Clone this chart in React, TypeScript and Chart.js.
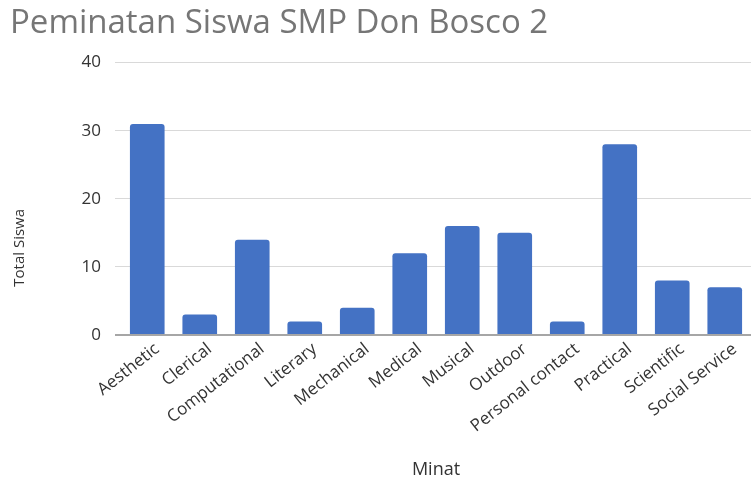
import React, { useEffect, useRef } from "react";
import { Chart, registerables } from "chart.js";

Chart.register(...registerables);

const categories = [
  "Aesthetic",
  "Clerical",
  "Computational",
  "Literary",
  "Mechanical",
  "Medical",
  "Musical",
  "Outdoor",
  "Personal contact",
  "Practical",
  "Scientific",
  "Social Service",
];
const totalSiswa = [31, 3, 14, 2, 4, 12, 16, 15, 2, 28, 8, 7];
const yTicks = [0, 10, 20, 30, 40];

const chartTitle = "Peminatan Siswa SMP Don Bosco 2";
const yTitle = "Total Siswa";
const xTitle = "Minat";

const FONT = "'Open Sans', 'DejaVu Sans', sans-serif";

const yTitlePlugin = {
  id: "yTitleLow",
  afterDraw(chart: any) {
    const ctx = chart.ctx;
    const area = chart.chartArea;
    ctx.save();
    ctx.fillStyle = "#333";
    ctx.font = `15px ${FONT}`;
    ctx.textAlign = "center";
    ctx.textBaseline = "middle";
    // placed a bit below the vertical middle of the plot, as in the reference
    const cy = area.top + (area.bottom - area.top) * 0.68;
    ctx.translate(20, cy);
    ctx.rotate(-Math.PI / 2);
    ctx.fillText(yTitle, 0, 0);
    ctx.restore();
  },
};

export default function App() {
  const ref = useRef<HTMLCanvasElement>(null);

  useEffect(() => {
    document.body.style.margin = "0";
    const canvas = ref.current;
    if (!canvas) return;
    const chart = new Chart(canvas, {
      type: "bar",
      data: {
        labels: categories,
        datasets: [
          {
            label: yTitle,
            data: totalSiswa,
            backgroundColor: "#4472C4",
            borderRadius: { topLeft: 3, topRight: 3, bottomLeft: 0, bottomRight: 0 },
            borderSkipped: "bottom",
            categoryPercentage: 1,
            barPercentage: 0.66,
          },
        ],
      },
      plugins: [yTitlePlugin],
      options: {
        responsive: false,
        animation: false,
        layout: { padding: { left: 10, right: 0, top: 0, bottom: 0 } },
        plugins: {
          legend: { display: false },
          tooltip: { enabled: false },
          title: {
            display: true,
            text: chartTitle,
            align: "start",
            color: "#767676",
            font: { family: FONT, size: 33, weight: "normal" },
            padding: { top: 4, bottom: 19 },
          },
        },
        scales: {
          x: {
            grid: { display: false, drawTicks: false },
            border: { display: false },
            ticks: {
              color: "#333",
              font: { family: FONT, size: 17 },
              minRotation: 38,
              maxRotation: 38,
              autoSkip: false,
              padding: 4,
              labelOffset: 10,
            },
            title: {
              display: true,
              text: xTitle,
              color: "#333",
              font: { family: FONT, size: 18, lineHeight: 0.9 },
              padding: { top: 0, bottom: 0 },
            },
            afterFit: (s: any) => {
              s.height = 143;
            },
          },
          y: {
            min: 0,
            max: 40,
            afterBuildTicks: (s: any) => {
              s.ticks = yTicks.map((v) => ({ value: v }));
            },
            grid: {
              color: (c: any) => (c.tick && c.tick.value === 0 ? "#a6a6a6" : "#d9d9d9"),
              lineWidth: (c: any) => (c.tick && c.tick.value === 0 ? 2 : 1),
              drawTicks: true,
              tickLength: 6,
            },
            border: { display: false },
            ticks: {
              color: "#333",
              font: { family: FONT, size: 17 },
              padding: 14,
            },
            title: { display: false },
            afterFit: (s: any) => {
              s.width = 111;
            },
          },
        },
      },
    });
    return () => chart.destroy();
  }, []);

  return (
    <div style={{ width: 751, height: 478, background: "#fff" }}>
      <canvas ref={ref} width={751} height={478} style={{ display: "block" }} />
    </div>
  );
}
